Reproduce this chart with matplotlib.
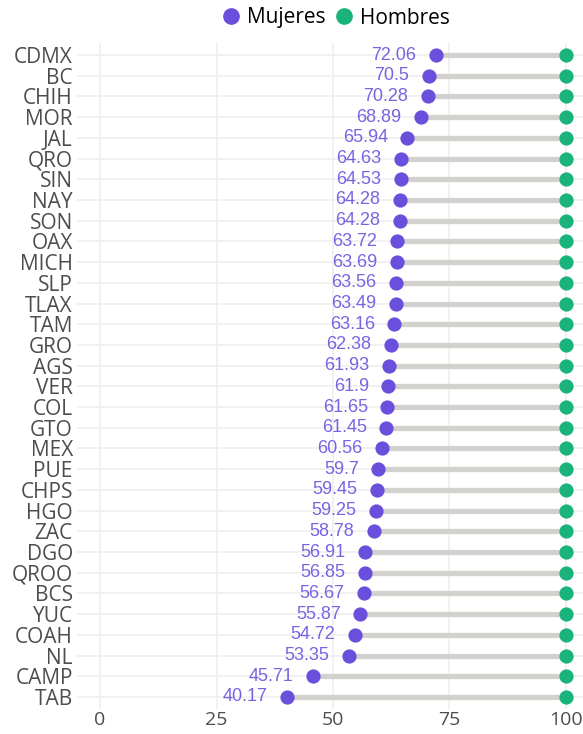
import matplotlib.pyplot as plt
from matplotlib.lines import Line2D

# Data (top to bottom)
states = ['CDMX', 'BC', 'CHIH', 'MOR', 'JAL', 'QRO', 'SIN', 'NAY', 'SON', 'OAX',
          'MICH', 'SLP', 'TLAX', 'TAM', 'GRO', 'AGS', 'VER', 'COL', 'GTO', 'MEX',
          'PUE', 'CHPS', 'HGO', 'ZAC', 'DGO', 'QROO', 'BCS', 'YUC', 'COAH', 'NL',
          'CAMP', 'TAB']
mujeres = [72.06, 70.5, 70.28, 68.89, 65.94, 64.63, 64.53, 64.28, 64.28, 63.72,
           63.69, 63.56, 63.49, 63.16, 62.38, 61.93, 61.9, 61.65, 61.45, 60.56,
           59.7, 59.45, 59.25, 58.78, 56.91, 56.85, 56.67, 55.87, 54.72, 53.35,
           45.71, 40.17]
hombres = [100] * len(states)
mujeres_labels = ['72.06', '70.5', '70.28', '68.89', '65.94', '64.63', '64.53', '64.28',
                  '64.28', '63.72', '63.69', '63.56', '63.49', '63.16', '62.38', '61.93',
                  '61.9', '61.65', '61.45', '60.56', '59.7', '59.45', '59.25', '58.78',
                  '56.91', '56.85', '56.67', '55.87', '54.72', '53.35', '45.71', '40.17']
x_ticks = [0, 25, 50, 75, 100]

PURPLE = '#6A4FDC'
LABEL_PURPLE = '#7864E2'
GREEN = '#1AB37B'
SEG = '#D3D1CE'
GRID = '#EFEFEF'


def create_plot():
    fig = plt.figure(figsize=(5.83, 7.34), dpi=100)
    W, H = 583, 734
    ax = fig.add_axes([77 / W, (734 - 709.4) / H, (583 - 77) / W, (709.4 - 42.6) / H])

    n = len(states)
    y = list(range(n - 1, -1, -1))

    # grid (major only)
    for v in x_ticks:
        ax.axvline(v, color=GRID, lw=1.2, zorder=0)
    for yy in y:
        ax.axhline(yy, color=GRID, lw=1.2, zorder=0)

    # segments
    ax.hlines(y, mujeres, hombres, color=SEG, lw=3.8, zorder=1)

    # points
    ax.scatter(mujeres, y, s=105, color=PURPLE, zorder=3, linewidths=0)
    ax.scatter(hombres, y, s=105, color=GREEN, zorder=3, linewidths=0)

    # value labels
    for xv, yy, lab in zip(mujeres, y, mujeres_labels):
        ax.annotate(lab, (xv, yy), xytext=(-14, 0), textcoords='offset points',
                    ha='right', va='center', fontsize=13, color=LABEL_PURPLE,
                    family='Liberation Sans')

    ax.set_xlim(-4.94, 103.65)
    ax.set_ylim(-0.6, n - 1 + 0.6)
    ax.set_yticks(y)
    ax.set_yticklabels(states, fontsize=15, color='#4D4D4D', family='Open Sans')
    ax.set_xticks(x_ticks)
    ax.set_xticklabels([str(t) for t in x_ticks], fontsize=14, color='#4D4D4D',
                       family='Open Sans')
    ax.tick_params(axis='y', length=0, pad=3)
    ax.tick_params(axis='x', length=0, pad=1)
    for sp in ax.spines.values():
        sp.set_visible(False)

    # legend
    handles = [Line2D([], [], marker='o', ls='', color=PURPLE, markersize=11, label='Mujeres'),
               Line2D([], [], marker='o', ls='', color=GREEN, markersize=11, label='Hombres')]
    fig.legend(handles=handles, loc='center', bbox_to_anchor=(0.575, 1 - 18 / H), ncol=2,
               frameon=False, handletextpad=0.25, columnspacing=0.4, handlelength=1.0,
               prop={'family': 'Open Sans', 'size': 15})

    fig.savefig('out.png', dpi=100)


if __name__ == '__main__':
    create_plot()
